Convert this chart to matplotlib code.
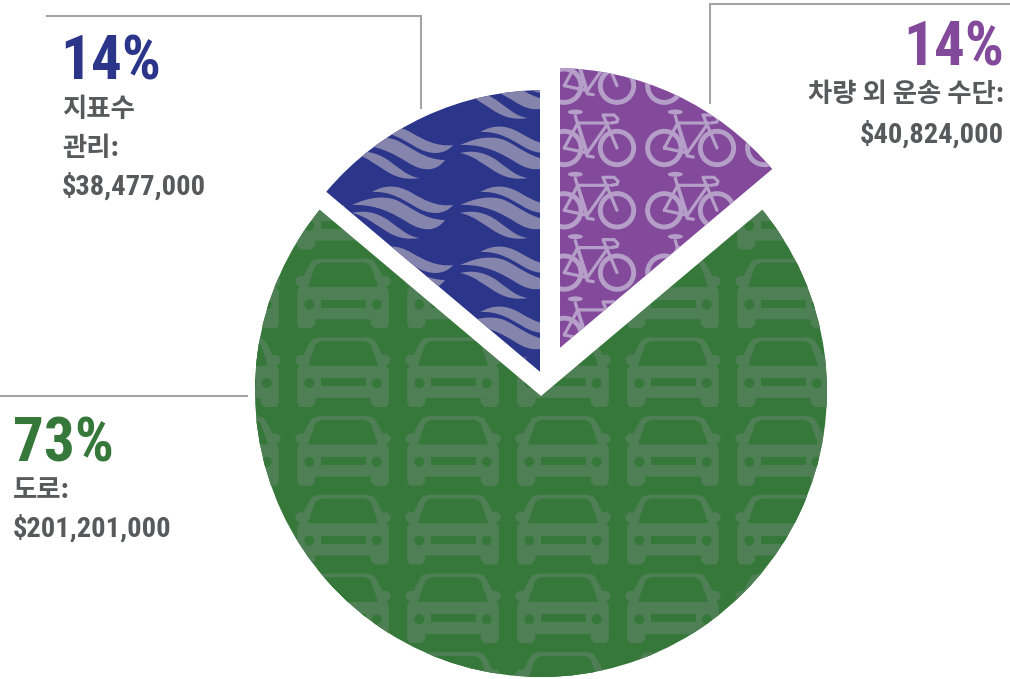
import numpy as np
import matplotlib
matplotlib.use("Agg")
import matplotlib.pyplot as plt
from matplotlib.path import Path
from matplotlib.patches import PathPatch, Polygon, Circle, Ellipse
from matplotlib.lines import Line2D

# ---- data ----
categories = ["차량 외 운송 수단", "도로", "지표수 관리"]
shares = [14, 73, 14]
amounts = ["$40,824,000", "$201,201,000", "$38,477,000"]
colors = ["#834a9c", "#35783a", "#2b358a"]
overlay = ["#b59fc8", "#4f7f55", "#8584ac"]

GRAY = "#58595b"
LINE = "#a3a3a8"
W, H = 1010, 679
Y = lambda y: H - y

fig = plt.figure(figsize=(W / 100, H / 100), dpi=100)
ax = fig.add_axes([0, 0, 1, 1])
wedges, _ = ax.pie(shares, colors=colors, startangle=90, counterclock=False,
                   radius=286, center=(541, Y(391)))
ax.set_xlim(0, W)
ax.set_ylim(0, H)
ax.set_aspect("equal")
ax.axis("off")

placement = [((555, 352), 284), ((541, 391), 286), ((545, 376), 286)]
for w, (c, r) in zip(wedges, placement):
    w.set_center((c[0], Y(c[1])))
    w.set_radius(r)
    w.set_linewidth(0)
    w.set_zorder(1)

# ---- motif helpers (local pixel coordinates, y downward) ----
def add(patch, clip):
    patch.set_zorder(2)
    ax.add_patch(patch)
    patch.set_clip_path(clip)

def poly(pts, ox, oy, color, clip, lw=1.2):
    xy = [(ox + a, Y(oy + b)) for a, b in pts]
    add(Polygon(xy, closed=True, fc=color, ec=color, lw=lw, joinstyle="round"), clip)

def car(ox, oy, fg, bg, clip):
    half = [(0, -34.5), (24, -34.5), (30, -33), (34, -27), (39, -17), (44, -17), (47, -14),
            (46, -10), (42, -8), (45, -3), (45, 30), (43, 33.5), (32, 33.5), (28.5, 30),
            (28.5, 24.5), (0, 24.5)]
    full = half + [(-a, b) for a, b in half[::-1]]
    poly(full, ox, oy, fg, clip)
    shield = [(-22, -31), (22, -31), (27, -28), (34, -9), (34, -7.5), (-34, -7.5), (-34, -9), (-27, -28)]
    poly(shield, ox, oy, bg, clip, lw=0.8)
    poly([(-22.5, 5.5), (22.5, 5.5), (22.5, 13.5), (-22.5, 13.5)], ox, oy, bg, clip, lw=0)
    for s in (-1, 1):
        add(Circle((ox + s * 33.7, Y(oy + 10.5)), 5, fc=bg, ec="none"), clip)

def bike(rx, oy, fg, clip):
    """rx: right hub x, oy: hub y."""
    lx = rx - 52.7
    for cx in (lx, rx):
        add(Circle((cx, Y(oy)), 16.7, fc="none", ec=fg, lw=3.5), clip)
    segs = [[(lx, oy), (lx + 13.5, oy - 25), (lx + 23, oy + 5), (lx, oy)],
            [(lx + 11, oy - 32), (lx + 23, oy + 8), (lx + 29, oy + 9)],
            [(lx + 13.5, oy - 25), (lx + 44, oy - 25), (lx + 23, oy + 5)],
            [(rx, oy), (rx - 14, oy - 33), (rx - 3, oy - 33), (rx + 1, oy - 29),
             (rx + 0, oy - 26), (rx - 6, oy - 25)]]
    for s in segs:
        ln = Line2D([p[0] for p in s], [Y(p[1]) for p in s], color=fg, lw=2.3,
                    solid_joinstyle="round", solid_capstyle="round", zorder=2)
        ax.add_line(ln)
        ln.set_clip_path(clip)
    add(Ellipse((lx + 11, Y(oy - 36)), 15, 5, fc=fg, ec="none"), clip)

def band(ox, oy, pts, fg, clip):
    """Closed lens shape from 13 bezier vertices."""
    v = [(ox + a, Y(oy + b)) for a, b in pts]
    c = [Path.MOVETO] + [Path.CURVE4] * (len(pts) - 1)
    add(PathPatch(Path(v, c), fc=fg, ec="none"), clip)

WAVE_TOP = [(20, -13), (32, -20), (45, -21), (60, -12), (72, -5), (85, 2), (101, 0),
            (93, 10), (78, 11), (62, 1), (50, -6), (38, -14), (20, -13)]
WAVE_MID = [(0, 0), (15, -7), (30, -10), (44, -5), (58, 1), (72, 15), (93, 15),
            (85, 26), (72, 28), (55, 17), (42, 9), (25, -1), (0, 0)]
WAVE_LOW = [(0, 8), (12, 5), (24, 7), (36, 15), (46, 22), (56, 32), (68, 33),
            (55, 35), (45, 33), (34, 26), (24, 20), (14, 11), (0, 8)]

def wave(ox, oy, fg, clip):
    for pts in (WAVE_TOP, WAVE_MID, WAVE_LOW):
        band(ox, oy, pts, fg, clip)

# ---- fill patterns ----
for row in range(-3, 5):
    for col in range(-2, 6):
        bike(617 + col * 100, 148 + row * 62.3, overlay[0], wedges[0])
for row in range(-1, 7):
    for col in range(-2, 5):
        car(343 + col * 110, 294 + row * 78.7, overlay[1], colors[1], wedges[1])
for row in range(-3, 4):
    for col in range(-2, 3):
        wave(352 + col * 108.3, 205 + row * 60, overlay[2], wedges[2])

# ---- white gap corrections ----
ax.add_patch(Polygon([(540, Y(50)), (560, Y(50)), (560, Y(377)), (540, Y(377))],
                     fc="white", ec="none", zorder=3))
ang = np.deg2rad(shares[0] / sum(shares) * 360)
dx, dy = np.sin(ang) * 300, np.cos(ang) * 300
ax.add_patch(Polygon([(541, Y(396)), (541 + dx, Y(396 - dy)), (541 + dx, Y(390 - dy)), (541, Y(390)),
                      (541 - dx, Y(390 - dy)), (541 - dx, Y(396 - dy))],
                     fc="white", ec="none", zorder=3))

# ---- leader lines ----
lines = [([47, 421, 421], [16, 16, 108]), ([1010, 710, 710], [4, 4, 103]), ([0, 247], [396, 396])]
for xs, ys in lines:
    ax.plot(xs, [Y(v) for v in ys], color=LINE, lw=1.5, solid_joinstyle="miter", zorder=1)

# ---- text ----
HEAD = ["Roboto Condensed", "DejaVu Sans"]
KO = ["Noto Sans CJK KR", "DejaVu Sans"]

def label(x, y, s, **kw):
    ax.text(x, Y(y), s, va="baseline", zorder=5, **kw)

pct = [f"{v}%" for v in shares]
head_kw = dict(family=HEAD, fontweight="bold", fontstretch="condensed", fontsize=44)
ko_kw = dict(family=KO, fontweight="black", fontsize=19, color=GRAY)
amt_kw = dict(family=HEAD, fontweight="bold", fontstretch="condensed", fontsize=20.5, color=GRAY)

label(1004, 65, pct[0], ha="right", color=colors[0], **head_kw)
label(1004, 102, categories[0] + ":", ha="right", **ko_kw)
label(1004, 143, amounts[0], ha="right", **amt_kw)

label(60, 80, pct[2], ha="left", color=colors[2], **head_kw)
label(62, 117, "지표수", ha="left", **ko_kw)
label(62, 156, "관리:", ha="left", **ko_kw)
label(62, 195, amounts[2], ha="left", **amt_kw)

label(13, 461, pct[1], ha="left", color=colors[1], **head_kw)
label(13, 498, categories[1] + ":", ha="left", **ko_kw)
label(13, 537, amounts[1], ha="left", **amt_kw)

fig.savefig("out.png", dpi=100)
